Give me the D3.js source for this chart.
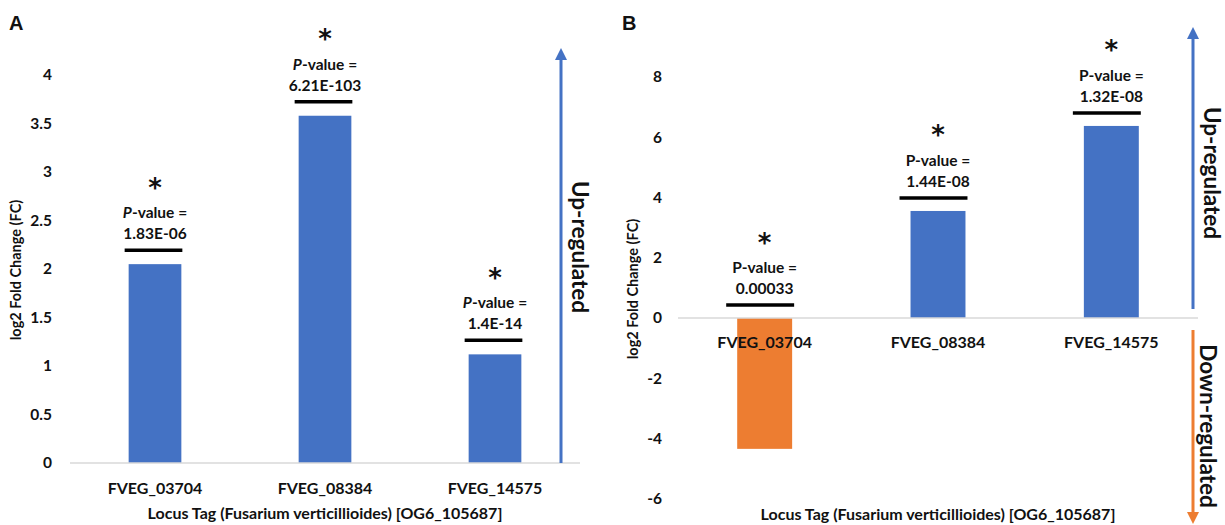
<!DOCTYPE html>
<html>
<head>
<meta charset="utf-8">
<script src="https://cdn.jsdelivr.net/npm/d3@7"></script>
<style>
  html, body { margin: 0; padding: 0; background: #ffffff; }
  svg { display: block; }
  text { font-family: Lato, "Open Sans", sans-serif; font-weight: 700; fill: #111; }
</style>
</head>
<body>
<script>
// Gene loci shared by both panels
const categories = ["FVEG_03704", "FVEG_08384", "FVEG_14575"];

// Panel A: log2 fold change and significance
const log2FcA = [2.05, 3.58, 1.12];
const pValuesA = ["1.83E-06", "6.21E-103", "1.4E-14"];
const ticksA = [0, 0.5, 1, 1.5, 2, 2.5, 3, 3.5, 4];

// Panel B: log2 fold change and significance
const log2FcB = [-4.34, 3.55, 6.37];
const pValuesB = ["0.00033", "1.44E-08", "1.32E-08"];
const ticksB = [-6, -4, -2, 0, 2, 4, 6, 8];

const BLUE = "#4472C4";
const ORANGE = "#ED7D31";

const svg = d3.select("body").append("svg")
  .attr("width", 1225)
  .attr("height", 525);

function arrow(g, x, y0, y1, color) {
  // shaft from y0 to the tip at y1, with a triangular head
  const dir = y1 < y0 ? -1 : 1;
  const head = 12;
  g.append("line")
    .attr("x1", x).attr("x2", x)
    .attr("y1", y0).attr("y2", y1 - dir * head * 0.6)
    .attr("stroke", color).attr("stroke-width", 3);
  g.append("path")
    .attr("d", `M${x},${y1} L${x - 6},${y1 - dir * head} L${x + 6},${y1 - dir * head} Z`)
    .attr("fill", color);
}

function drawPanel(cfg) {
  const g = svg.append("g");

  const x = d3.scaleBand()
    .domain(categories)
    .range(cfg.xRange)
    .paddingInner(cfg.pad)
    .paddingOuter(cfg.pad / 2);

  const y = d3.scaleLinear()
    .domain(cfg.yDomain)
    .range(cfg.yRange);

  // value axis: labels only
  const yAxis = g.append("g")
    .attr("transform", `translate(${cfg.axisX},0)`)
    .call(d3.axisLeft(y).tickValues(cfg.ticks).tickSize(0).tickPadding(8).tickFormat(d => String(d)));
  yAxis.select(".domain").remove();
  yAxis.selectAll("text")
    .style("font-family", "Lato, sans-serif")
    .style("font-weight", 700)
    .style("font-size", "15.5px")
    .attr("fill", "#111");

  const rows = categories.map((c, i) => ({ cat: c, v: cfg.values[i], p: cfg.pvals[i] }));

  // bars
  g.selectAll("rect.bar").data(rows).join("rect")
    .attr("class", "bar")
    .attr("x", d => x(d.cat))
    .attr("width", x.bandwidth())
    .attr("y", d => y(Math.max(0, d.v)))
    .attr("height", d => Math.abs(y(d.v) - y(0)))
    .attr("fill", d => d.v < 0 ? ORANGE : BLUE);

  // zero baseline
  g.append("line")
    .attr("x1", cfg.xRange[0]).attr("x2", cfg.xRange[1])
    .attr("y1", y(0)).attr("y2", y(0))
    .attr("stroke", "#d9d9d9").attr("stroke-width", 1.5);

  // category labels beside the baseline
  g.selectAll("text.cat").data(rows).join("text")
    .attr("class", "cat")
    .attr("x", d => x(d.cat) + x.bandwidth() / 2)
    .attr("y", y(0) + cfg.catOffset)
    .attr("text-anchor", "middle")
    .attr("dominant-baseline", "central")
    .style("font-size", "16px")
    .text(d => d.cat);

  // significance bracket, p-value and star above each bar
  rows.forEach(d => {
    const cx = x(d.cat) + x.bandwidth() / 2;
    const ly = y(Math.max(0, d.v)) - cfg.lineGap;
    g.append("line")
      .attr("x1", x(d.cat) - cfg.lineExtL)
      .attr("x2", x(d.cat) + x.bandwidth() + cfg.lineExtR)
      .attr("y1", ly).attr("y2", ly)
      .attr("stroke", "#000").attr("stroke-width", 3.5);

    g.append("text")
      .attr("x", cx).attr("y", ly - 17)
      .attr("text-anchor", "middle").attr("dominant-baseline", "central")
      .style("font-size", "15.5px")
      .text(d.p);

    const pv = g.append("text")
      .attr("x", cx).attr("y", ly - 38)
      .attr("text-anchor", "middle").attr("dominant-baseline", "central")
      .style("font-size", "15.5px");
    pv.append("tspan").style("font-style", cfg.italicP ? "italic" : "normal").text("P");
    pv.append("tspan").text("-value =");

    g.append("text")
      .attr("x", cx).attr("y", ly - 53.5)
      .attr("text-anchor", "middle")
      .style("font-family", "'DejaVu Sans', sans-serif")
      .style("font-size", "26px")
      .style("font-weight", 700)
      .text("*");
  });

  // axis titles
  g.append("text")
    .attr("transform", `translate(${cfg.yTitle[0]},${cfg.yTitle[1]}) rotate(-90)`)
    .attr("text-anchor", "middle").attr("dominant-baseline", "central")
    .style("font-size", "14.5px")
    .text("log2 Fold Change (FC)");

  g.append("text")
    .attr("x", (cfg.xRange[0] + cfg.xRange[1]) / 2)
    .attr("y", cfg.xTitleY)
    .attr("text-anchor", "middle").attr("dominant-baseline", "central")
    .style("font-size", "16px")
    .text("Locus Tag (Fusarium verticillioides) [OG6_105687]");

  // panel letter
  g.append("text")
    .attr("x", cfg.letterX).attr("y", 30)
    .style("font-family", "'Liberation Sans', Arial, sans-serif")
    .style("font-size", "20px")
    .text(cfg.letter);

  return { g, x, y };
}

function regulationLabel(g, text, cx, cy) {
  g.append("text")
    .attr("transform", `translate(${cx},${cy}) rotate(90)`)
    .attr("text-anchor", "middle").attr("dominant-baseline", "central")
    .style("font-size", "22.5px")
    .text(text);
}

// Panel A
const A = drawPanel({
  letter: "A", letterX: 9,
  xRange: [70, 580], pad: 0.69,
  yDomain: [0, 4], yRange: [463, 75],
  ticks: ticksA, axisX: 60,
  values: log2FcA, pvals: pValuesA, italicP: true,
  lineGap: 14, lineExtL: 4, lineExtR: 1,
  catOffset: 24,
  yTitle: [15, 270], xTitleY: 512
});
arrow(A.g, 561, A.y(0), 48, BLUE);
regulationLabel(A.g, "Up-regulated", 580, 247);

// Panel B
const B = drawPanel({
  letter: "B", letterX: 622,
  xRange: [678, 1198], pad: 0.683,
  yDomain: [-6, 8], yRange: [498.9, 76.8],
  ticks: ticksB, axisX: 670,
  values: log2FcB, pvals: pValuesB, italicP: false,
  lineGap: 13, lineExtL: 11, lineExtR: 2,
  catOffset: 23,
  yTitle: [632, 289], xTitleY: 513
});
arrow(B.g, 1193, B.y(0) - 9, 27, BLUE);
arrow(B.g, 1193, B.y(0) + 12, 524, ORANGE);
regulationLabel(B.g, "Up-regulated", 1212, 173);
regulationLabel(B.g, "Down-regulated", 1208, 426);
</script>
</body>
</html>
